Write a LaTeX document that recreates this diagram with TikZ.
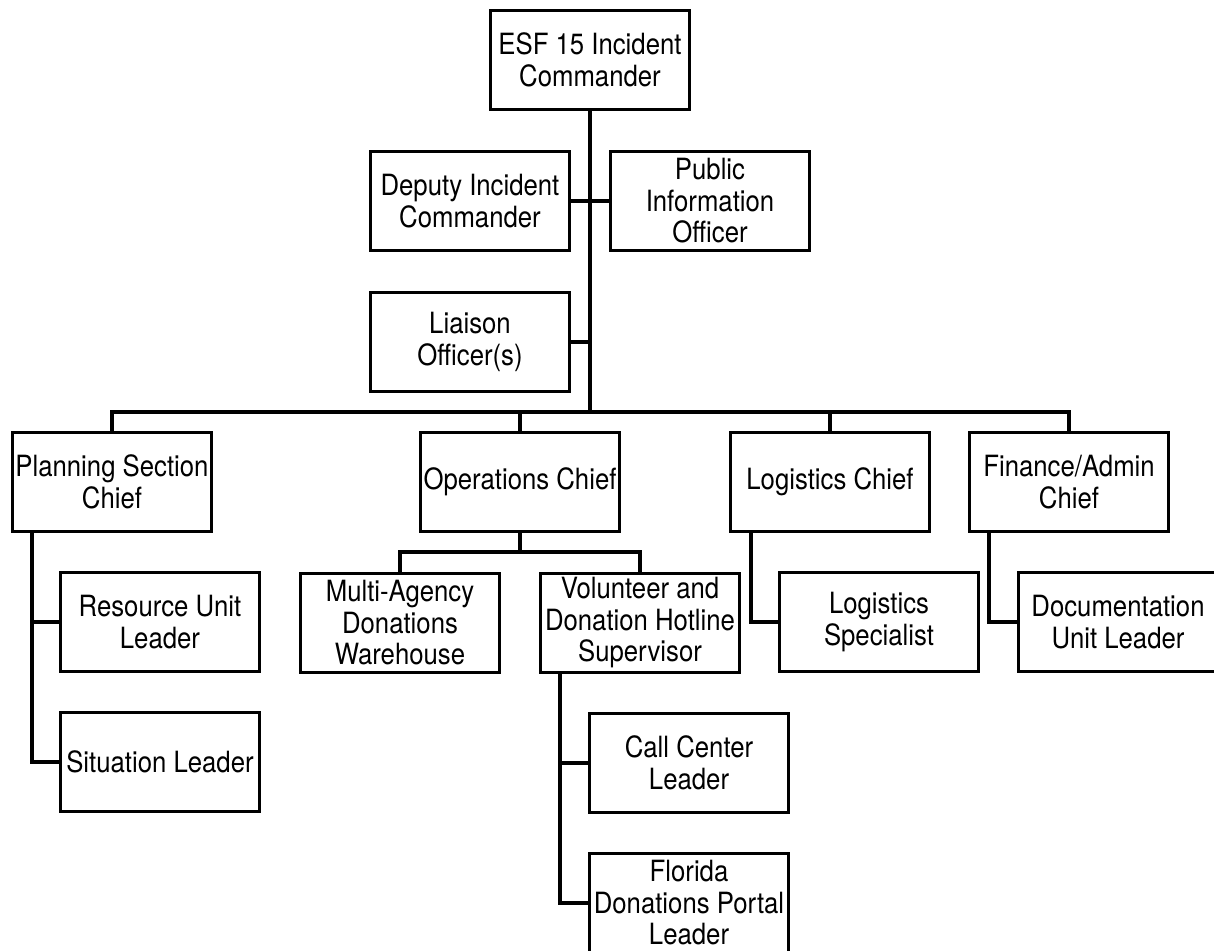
\documentclass[tikz,border=0pt]{standalone}
\usepackage{fontspec}
\setmainfont{TeX Gyre Heros}[FakeStretch=0.88]
\usetikzlibrary{positioning}

\tikzset{
	post/.style={rectangle, draw, line width=2.6pt, align=center, inner sep=1pt,
		minimum width=4.975cm, minimum height=2.475cm,
		font=\fontsize{20.8pt}{22.4pt}\selectfont},
	link/.style={line width=2.6pt}
}

\begin{document}
\begin{tikzpicture}[x=0.025cm, y=-0.025cm]
	\clip (0,0) rectangle (1214,950);
	\fill[white] (0,0) rectangle (1214,950);
	% command staff
	\node [post] (cmd) at (590,60) {ESF 15 Incident\\Commander};
	\node [post] (deputy) at (470,201) {Deputy Incident\\Commander};
	\node [post] (pio) at (710,201) {Public\\Information\\Officer};
	\node [post] (liaison) at (470,342) {Liaison\\Officer(s)};
	% sections
	\node [post] (planning) at (112,482) {Planning Section\\Chief};
	\node [post] (ops) at (520,482) {Operations Chief};
	\node [post] (logchief) at (830,482) {Logistics Chief};
	\node [post] (finance) at (1069,482) {Finance/Admin\\Chief};
	% units
	\node [post] (resource) at (160,622) {Resource Unit\\Leader};
	\node [post] (situation) at (160,762) {Situation Leader};
	\node [post] (warehouse) at (400,623) {Multi-Agency\\Donations\\Warehouse};
	\node [post] (volunteer) at (640,623) {Volunteer and\\Donation Hotline\\Supervisor};
	\node [post] (logspec) at (879,622) {Logistics\\Specialist};
	\node [post] (docu) at (1118,622) {Documentation\\Unit Leader};
	\node [post] (callcenter) at (689,763) {Call Center\\Leader};
	\node [post] (florida) at (689,903) {Florida\\Donations Portal\\Leader};

	\coordinate (bus) at (590,412);
	\coordinate (opsfork) at (520,552);
	\coordinate (planleg) at (32,532);
	\coordinate (volleg) at (560,673);
	\coordinate (logleg) at (751,532);
	\coordinate (finleg) at (989,532);

	\draw [link] (cmd.south) -- (bus);
	\draw [link] (deputy.east) -- (pio.west);
	\draw [link] (liaison.east) -- (liaison.east -| bus);
	\draw [link] (planning.north) |- (bus) -| (finance.north);
	\foreach \sec in {ops, logchief}
	\draw [link] (\sec.north) -- (\sec.north |- bus);
	\draw [link] (ops.south) -- (opsfork);
	\draw [link] (warehouse.north) |- (opsfork) -| (volunteer.north);
	\foreach \leg/\last/\mid in {
		planleg/situation/resource, volleg/florida/callcenter}
	{
	\draw [link] (\leg) |- (\last.west);
	\draw [link] (\mid.west) -- (\mid.west -| \leg);
	}
	\foreach \leg/\unit in {logleg/logspec, finleg/docu}
	\draw [link] (\leg) |- (\unit.west);
\end{tikzpicture}
\end{document}
